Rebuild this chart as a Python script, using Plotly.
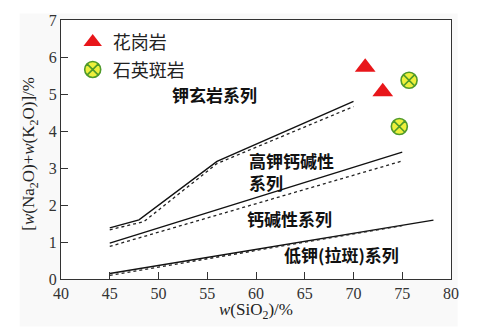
import plotly.graph_objects as go

# Boundary lines (solid) and their dotted counterparts
sho_x = [45, 48, 56, 70]
sho_y = [1.38, 1.60, 3.18, 4.80]
sho_dot_x = [45, 48.5, 56, 70]
sho_dot_y = [1.33, 1.55, 3.12, 4.66]

hk_x = [45, 75]
hk_y = [0.97, 3.43]
hk_dot_x = [45, 75]
hk_dot_y = [0.88, 3.19]

lk_x = [45, 78.2]
lk_y = [0.15, 1.59]
lk_dot_x = [45, 75]
lk_dot_y = [0.10, 1.44]

# Samples
granite_x = [71.2, 73.0]
granite_y = [5.72, 5.06]
porphyry_x = [75.7, 74.7]
porphyry_y = [5.37, 4.12]

x_ticks = [40, 45, 50, 55, 60, 65, 70, 75, 80]
y_ticks = [0, 1, 2, 3, 4, 5, 6, 7]

labels = ["钾玄岩系列", "高钾钙碱性<br>系列", "钙碱性系列", "低钾(拉斑)系列"]
label_x = [55.74, 59.03, 58.92, 62.62]
label_y = [5.0, 2.9, 1.64, 0.65]
label_anchor = ["center", "left", "left", "left"]

serif = "Liberation Serif, Times New Roman, serif"
cjk = "Noto Sans CJK SC"

fig = go.Figure()

solid = dict(color="#111111", width=1.4)
dotted = dict(color="#222222", width=1.3, dash="dot")
for xs, ys, ln in [(sho_x, sho_y, solid), (sho_dot_x, sho_dot_y, dotted),
                   (hk_x, hk_y, solid), (hk_dot_x, hk_dot_y, dotted),
                   (lk_x, lk_y, solid), (lk_dot_x, lk_dot_y, dotted)]:
    fig.add_trace(go.Scatter(x=xs, y=ys, mode="lines", line=ln,
                             showlegend=False, hoverinfo="skip"))

fig.add_trace(go.Scatter(
    x=granite_x, y=granite_y, mode="markers", name="花岗岩",
    legendgroup="g1",
    marker=dict(symbol="triangle-up", size=18, color="#e8161a",
                line=dict(width=0))))
fig.add_trace(go.Scatter(
    x=porphyry_x, y=porphyry_y, mode="markers", name="石英斑岩",
    legendgroup="g2",
    marker=dict(symbol="circle-x", size=16, color="#eef03c",
                line=dict(color="#4f9a2a", width=1.6))))

for t, x, y, a in zip(labels, label_x, label_y, label_anchor):
    fig.add_annotation(x=x, y=y, text=t, showarrow=False, xanchor=a,
                       yanchor="middle", align="left",
                       font=dict(family=cjk, size=17, color="#111111",
                                 weight="bold"))

# axis titles as annotations
fig.add_annotation(xref="paper", yref="paper", x=0.499, y=-0.124,
                   text="<i>w</i>(SiO<sub>2</sub>)/%", showarrow=False,
                   xanchor="center", yanchor="middle",
                   font=dict(family=serif, size=17, color="#222222"))
fig.add_annotation(xref="paper", yref="paper", x=-0.078, y=0.482,
                   text="[<i>w</i>(Na<sub>2</sub>O)+<i>w</i>(K<sub>2</sub>O)]/%",
                   showarrow=False, textangle=-90,
                   xanchor="center", yanchor="middle",
                   font=dict(family=serif, size=17, color="#222222"))

fig.add_shape(type="rect", xref="paper", yref="paper", x0=-0.106, x1=1.017,
              y0=-0.183, y1=1.025, fillcolor="#f9f9f9", line=dict(width=0),
              layer="below")
fig.add_shape(type="rect", xref="paper", yref="paper", x0=0, x1=1,
              y0=0, y1=1, fillcolor="white", line=dict(width=0),
              layer="below")

axis_common = dict(showgrid=False, zeroline=False, showline=True,
                   linecolor="#333333", linewidth=1.3, mirror=True,
                   ticks="inside", ticklen=7, tickwidth=1.2,
                   tickcolor="#333333",
                   tickfont=dict(family=serif, size=16, color="#333333"))

fig.update_xaxes(range=[40, 80], tickvals=x_ticks, **axis_common)
fig.update_yaxes(range=[0, 7], tickvals=y_ticks, **axis_common)

fig.update_layout(
    width=485, height=334,
    margin=dict(l=61, r=34, t=18, b=55),
    plot_bgcolor="white", paper_bgcolor="white",
    legend=dict(x=0.03, y=0.985, xanchor="left", yanchor="top",
                bgcolor="rgba(0,0,0,0)", tracegroupgap=1,
                font=dict(family=cjk, size=18, color="#222222")),
    showlegend=True,
)

fig.write_html("out.html")
